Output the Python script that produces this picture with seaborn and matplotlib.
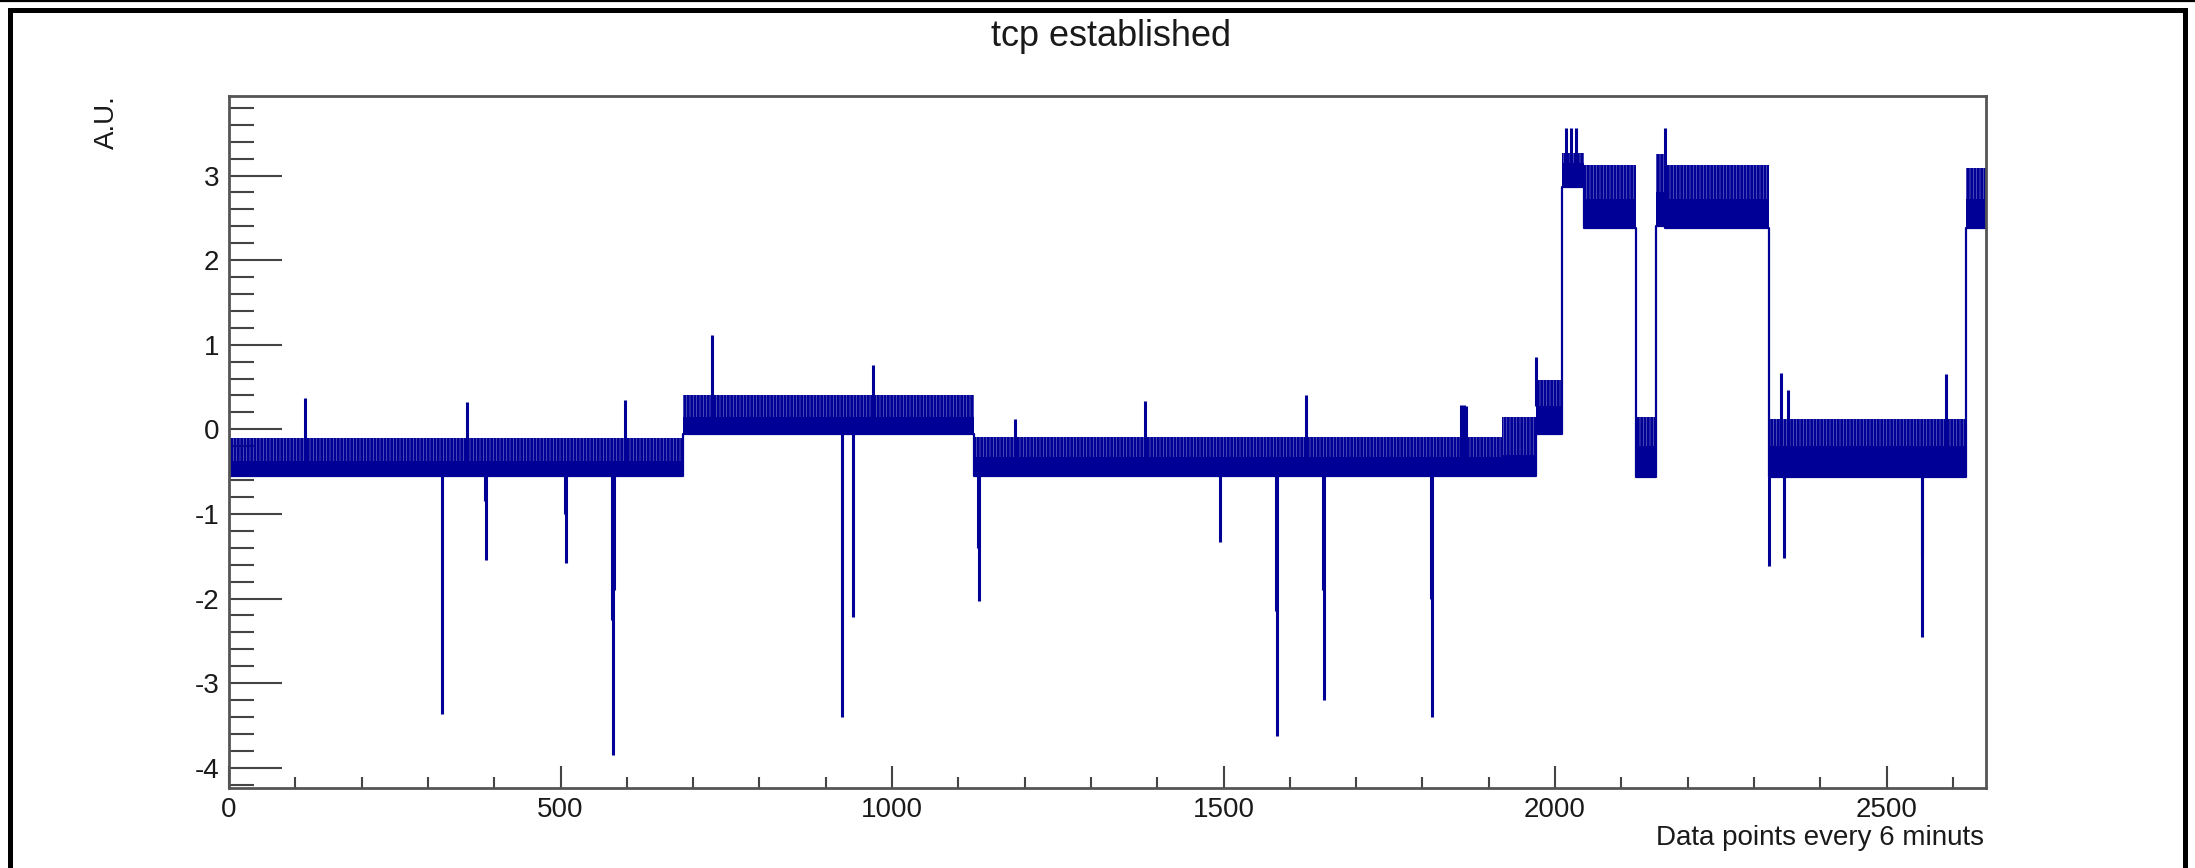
import numpy as np
import matplotlib
matplotlib.use("Agg")
import matplotlib.pyplot as plt
import seaborn as sns
from matplotlib.lines import Line2D
from matplotlib.patches import Rectangle
from matplotlib.ticker import MultipleLocator

# ---------------- data ----------------
# level segments of the signal (x in data points)
seg_start = [0, 685, 1124, 1920, 1971, 2011, 2044, 2122, 2152, 2166, 2322, 2620]
seg_end   = [685, 1124, 1920, 1971, 2011, 2044, 2122, 2152, 2166, 2322, 2620, 2650]
seg_low   = [-0.55, -0.06, -0.55, -0.55, -0.06, 2.87, 2.38, -0.56, 2.40, 2.38, -0.56, 2.38]
seg_dense = [-0.37, 0.15, -0.33, -0.30, 0.27, 3.15, 2.72, -0.20, 2.80, 2.72, -0.20, 2.72]
seg_top   = [-0.10, 0.40, -0.09, 0.14, 0.58, 3.27, 3.12, 0.14, 3.25, 3.12, 0.12, 3.09]

# isolated upward spikes
up_x = [115, 359, 598, 728, 971, 1185, 1382, 1625, 1858, 1862, 1866, 1972,
        2016, 2024, 2032, 2166, 2341, 2351, 2590]
up_y = [0.37, 0.32, 0.35, 1.12, 0.76, 0.12, 0.33, 0.40, 0.29, 0.29, 0.28, 0.86,
        3.56, 3.56, 3.56, 3.56, 0.67, 0.47, 0.65]

# isolated downward dips
dn_x = [322, 386, 388, 507, 509, 577, 579, 580, 925, 941, 1130, 1131, 1495,
        1579, 1580, 1650, 1651, 1813, 1814, 2322, 2346, 2553, 2554]
dn_y = [-3.36, -0.85, -1.54, -1.00, -1.58, -2.25, -3.85, -1.90, -3.40, -2.22, -1.40, -2.03, -1.33,
        -2.15, -3.62, -1.90, -3.20, -2.00, -3.40, -1.62, -1.52, -1.50, -2.45]

x_ticks = [0, 500, 1000, 1500, 2000, 2500]
y_ticks = [-4, -3, -2, -1, 0, 1, 2, 3]
title = "tcp established"
x_title = "Data points every 6 minuts"
y_title = "A.U."

# ---------------- style ----------------
W, H = 2195, 868
DPI = 100
BLUE = "#000096"
TXT = "#1a1a1a"

sns.set_theme(style="white")
plt.rcParams["font.family"] = ["Liberation Sans", "DejaVu Sans"]
plt.rcParams["axes.unicode_minus"] = False
plt.rcParams["hatch.linewidth"] = 2.2
plt.rcParams["hatch.color"] = BLUE

fig = plt.figure(figsize=(W / DPI, H / DPI), dpi=DPI)
fig.patch.set_facecolor("white")
ax = fig.add_axes([229 / W, 1 - 788 / H, (1986 - 229) / W, (788 - 96) / H])
ax.set_facecolor("white")

def seg_of(x):
    i = int(np.searchsorted(seg_start, x, side="right")) - 1
    return max(0, min(i, len(seg_start) - 1))

# bands
for s, e, lo, de, tp in zip(seg_start, seg_end, seg_low, seg_dense, seg_top):
    ax.fill_between([s, e], [lo, lo], [de, de], color=BLUE, linewidth=0)
    ax.fill_between([s, e], [de, de], [tp, tp], facecolor="none",
                    edgecolor=BLUE, hatch="|||||", linewidth=0)

# step outline through the low levels
out_x = seg_start + [seg_end[-1]]
out_y = seg_low + [seg_low[-1]]
sns.lineplot(x=out_x, y=out_y, ax=ax, color=BLUE, linewidth=1.6,
             drawstyle="steps-post", estimator=None, sort=False)

# spikes
up_base = [seg_dense[seg_of(x)] for x in up_x]
ax.vlines(up_x, up_base, up_y, color=BLUE, linewidth=2.2)
dn_base = [seg_low[seg_of(x)] for x in dn_x]
ax.vlines(dn_x, dn_base, dn_y, color=BLUE, linewidth=2.2)

# axes
ax.set_xlim(0, 2650)
ax.set_ylim(-4.24, 3.94)
ax.set_xticks(x_ticks)
ax.set_yticks(y_ticks)
ax.xaxis.set_minor_locator(MultipleLocator(100))
ax.yaxis.set_minor_locator(MultipleLocator(0.2))
ax.tick_params(axis="both", which="both", direction="in", colors="#444444",
               labelcolor=TXT, labelsize=20, top=False, right=False,
               bottom=True, left=True)
ax.tick_params(axis="y", which="major", length=38, width=1.5, pad=7)
ax.tick_params(axis="y", which="minor", length=18, width=1.5)
ax.tick_params(axis="x", which="major", length=16, width=1.5, pad=6.5)
ax.tick_params(axis="x", which="minor", length=8, width=1.5)
for sp in ax.spines.values():
    sp.set_visible(True)
    sp.set_color("#555555")
    sp.set_linewidth(2.0)
ax.set_xlabel("")
ax.set_ylabel("")
ax.grid(False)

# texts
fig.text(1111 / W, 1 - 46 / H, title, ha="center", va="baseline", fontsize=26, color=TXT)
fig.text(107 / W, 1 - 95 / H, y_title, ha="center", va="top", rotation=90, fontsize=20, color=TXT)
fig.text(1984 / W, 1 - 845 / H, x_title, ha="right", va="baseline", fontsize=20, color=TXT)

# canvas frame
fig.add_artist(Line2D([0, 1], [1 - 1 / H, 1 - 1 / H], transform=fig.transFigure,
                      color="black", linewidth=1.6))
fig.add_artist(Rectangle((9.5 / W, -0.05), (2185 - 9.5) / W, 1 - 9.5 / H + 0.05,
                         transform=fig.transFigure, fill=False, edgecolor="black",
                         linewidth=3.6))

fig.savefig("out.png", dpi=DPI, facecolor="white")
